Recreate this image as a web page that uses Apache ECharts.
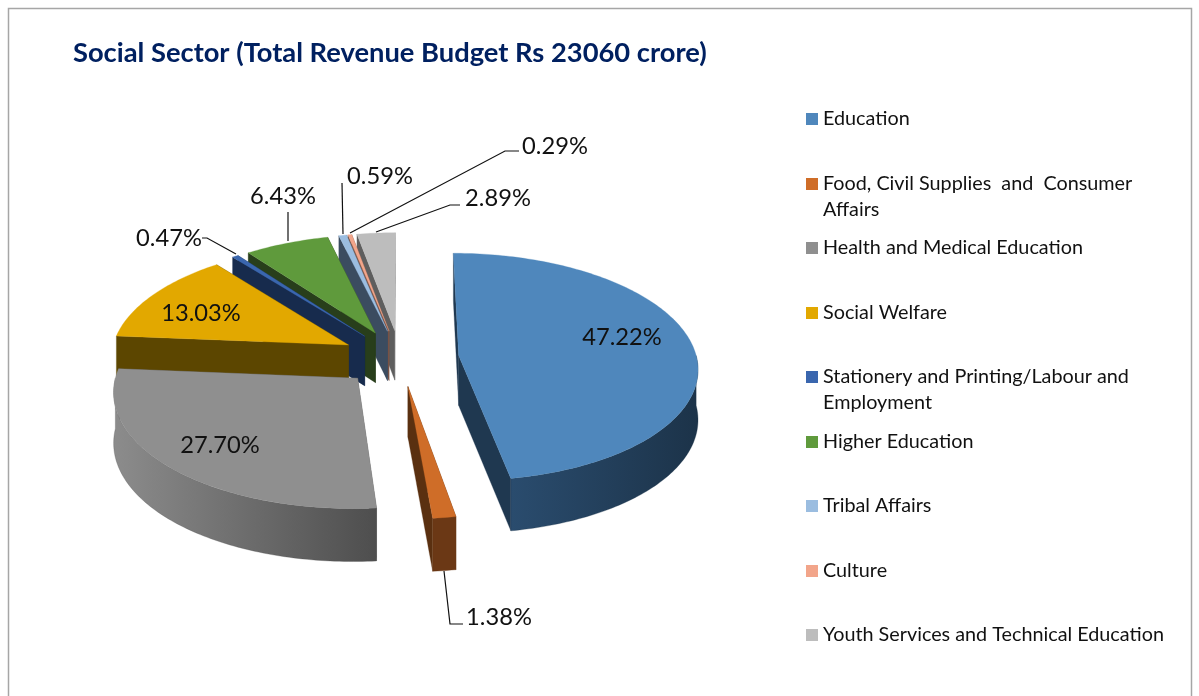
<!DOCTYPE html>
<html><head><meta charset="utf-8">
<style>html,body{margin:0;padding:0;background:#fff}#c{width:1199px;height:696px}</style>
<script src="https://cdn.jsdelivr.net/npm/echarts@6/dist/echarts.min.js"></script>
</head><body><div id="c"></div>
<script>
const categories = ["Education","Food, Civil Supplies  and  Consumer\nAffairs","Health and Medical Education","Social Welfare","Stationery and Printing/Labour and\nEmployment","Higher Education","Tribal Affairs","Culture","Youth Services and Technical Education"];
const shares = [47.22,1.38,27.70,13.03,0.47,6.43,0.59,0.29,2.89];
const topColors = ["#4F87BC","#CF6D28","#8F8F8F","#E2A800","#3A66AE","#5F9A3C","#9BBDE0","#F2A58A","#BDBDBD"];
const cutColors = ["#1F3850","#5A3010","#555555","#5C4600","#172B4D","#283E1B","#3B4C60","#7A5548","#5E5E5E"];
const rimFrom = ["#2A4C6E","#6B3815","#8C8C8C","#5C4600","#172B4D","#283E1B","#3B4C60","#7A5548","#5E5E5E"];
const rimTo = ["#1C3349","#6B3815","#4E4E4E","#5C4600","#172B4D","#283E1B","#3B4C60","#7A5548","#5E5E5E"];

// layout of the pseudo-3D projection
const CX=400, CY=358, RX=238, RY=113, DEPTH=50, PERSP=0.10, EXPLODE=0.248;
const labelPos = [[622,337],[499,617],[220,445],[201,313],[169,238],[283,196],[380,176],[555,146],[498,198]];
const leaders = [null,[[444,571],[450,624],[463,624]],null,null,[[236,254],[207,238],[202,238]],[[288,241],[288,212]],[[343,234],[342,183]],[[350,233],[505,151],[519,151]],[[376,232],[450,205],[460,205]]];
const legendY = [118,183,247,312,376,441,505,570,634];

const rad=d=>d*Math.PI/180;
const total=shares.reduce((a,b)=>a+b,0);
const starts=[];shares.reduce((acc,v,i)=>{starts[i]=acc;return acc+v/total*360;},0);
function proj(wx,wy,h){const s=1/(1+PERSP*wy);return [CX+RX*wx*s,CY-RY*wy*s+h*DEPTH*(1-0.05*wy)];}
function sliceShapes(i,value){
  const a0=starts[i],a1=a0+value/total*360,m=rad((a0+a1)/2);
  const ox=EXPLODE*Math.sin(m),oy=EXPLODE*Math.cos(m);
  const rim=(d,h)=>proj(ox+Math.sin(rad(d)),oy+Math.cos(rad(d)),h);
  const arc=(f,t,h)=>{const p=[];const n=Math.max(2,Math.ceil(Math.abs(t-f)));for(let k=0;k<=n;k++)p.push(rim(f+(t-f)*k/n,h));return p;};
  const els=[];
  const ap0=proj(ox,oy,0),ap1=proj(ox,oy,1);
  const walls=[
    {ny:Math.sin(rad(a0)),pts:[ap0,ap1,rim(a0,1),rim(a0,0)]},
    {ny:-Math.sin(rad(a1)),pts:[ap0,ap1,rim(a1,1),rim(a1,0)]}
  ].sort((p,q)=>q.ny-p.ny);
  walls.forEach(w=>els.push({type:'polygon',shape:{points:w.pts},style:{fill:cutColors[i],stroke:cutColors[i],lineWidth:0.3}}));
  const f=Math.max(a0,90),t=Math.min(a1,270);
  if(t>f){
    const pts=arc(f,t,0).concat(arc(t,f,1));
    els.push({type:'polygon',shape:{points:pts},style:{fill:{type:'linear',x:0,y:0,x2:1,y2:0,colorStops:[{offset:0,color:rimFrom[i]},{offset:1,color:rimTo[i]}]},stroke:rimTo[i],lineWidth:0.3}});
  }
  els.push({type:'polygon',shape:{points:[ap0].concat(arc(a0,a1,0))},style:{fill:topColors[i],stroke:topColors[i],lineWidth:0.3}});
  return {type:'group',children:els};
}
const depthOf=i=>Math.cos(rad(starts[i]+shares[i]/total*180));
const order=shares.map((_,i)=>i).sort((a,b)=>depthOf(b)-depthOf(a));

const series=categories.map((name,i)=>({
  type:'custom',name,coordinateSystem:'none',silent:true,z:2+order.indexOf(i),
  itemStyle:{color:topColors[i]},data:[[shares[i]]],
  renderItem:(p,api)=>sliceShapes(i,api.value(0))
}));
series.push({
  type:'custom',name:'labels',coordinateSystem:'none',silent:true,z:30,
  data:shares.map(v=>[v]),
  renderItem:(p,api)=>{
    const i=p.dataIndex,kids=[];
    if(leaders[i])kids.push({type:'polyline',shape:{points:leaders[i]},style:{fill:'none',stroke:'#111',lineWidth:1.2}});
    kids.push({type:'text',style:{text:api.value(0).toFixed(2)+'%',x:labelPos[i][0],y:labelPos[i][1],align:'center',verticalAlign:'middle',font:'23.7px Lato',fill:'#111'}});
    return {type:'group',children:kids};
  }
});

const chart=echarts.init(document.getElementById('c'),null,{renderer:'canvas'});
chart.setOption({
  animation:false,backgroundColor:'#fff',
  title:{text:'Social Sector (Total Revenue Budget Rs 23060 crore)',left:68,top:35,textStyle:{fontFamily:'Lato',fontWeight:'bold',fontSize:27.3,color:'#002060'}},
  legend:categories.map((name,i)=>({
    data:[name],left:806,top:legendY[i]-12,selectedMode:false,icon:'rect',itemWidth:12,itemHeight:12,itemGap:0,padding:0,height:26,
    formatter:n=>n.split('\n')[0],
    textStyle:{fontFamily:'Lato',fontSize:19.8,color:'#111',lineHeight:26,padding:[0,0,0,0]}
  })),
  graphic:[
    {type:'rect',shape:{x:8.5,y:8.5,width:1183,height:720},style:{fill:'none',stroke:'#A6A6A6',lineWidth:1.5},silent:true,z:-1},
    ...categories.map((n,i)=>n.includes('\n')?{type:'text',left:823,top:legendY[i]+26-9,style:{text:n.split('\n')[1],font:'19.8px Lato',fill:'#111'},silent:true}:null).filter(Boolean)
  ],
  series
});
</script></body></html>
